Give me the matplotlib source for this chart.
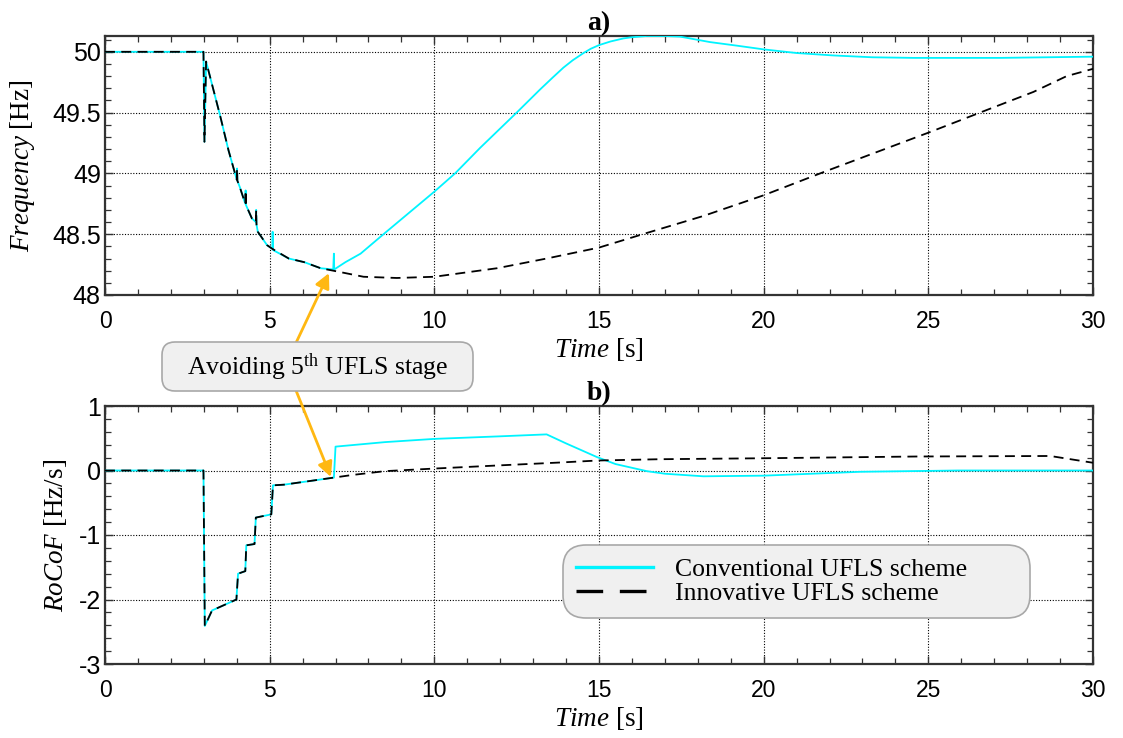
import matplotlib
matplotlib.use("Agg")
import matplotlib.pyplot as plt
from matplotlib.patches import FancyBboxPatch
from matplotlib.transforms import IdentityTransform
from matplotlib.ticker import MultipleLocator

plt.rcParams.update({
    "font.family": "Liberation Sans",
    "mathtext.fontset": "custom",
    "mathtext.rm": "Liberation Serif",
    "mathtext.it": "Liberation Serif:italic",
    "mathtext.bf": "Liberation Serif:bold",
    "axes.unicode_minus": False,
})

SERIF = "Liberation Serif"

# ---- frequency response [Hz] ----
t_freq_conv = [0, 2.99, 3.02, 3.07, 3.5, 3.75, 4.0, 4.01, 4.02, 4.09, 4.26, 4.27, 4.28,
               4.46, 4.58, 4.59, 4.60, 4.64, 4.92, 5.08, 5.09, 5.10, 5.58, 6.05, 6.55,
               6.93, 6.95, 6.96, 7.3, 7.76, 8.5, 9.25, 10.0, 10.63, 11.39, 12.5, 13.21, 13.6,
               13.92, 14.2, 14.53, 14.75, 15.0, 15.35, 15.74, 16.0, 16.45, 17.0, 17.46,
               18.37, 19.2, 20.0, 21.0, 22.12, 23.3, 24.55, 27.18, 30.0]
f_conv = [50.0, 50.0, 49.26, 49.92, 49.47, 49.19, 48.95, 49.04, 48.94, 48.89, 48.75, 48.86, 48.74,
          48.63, 48.60, 48.70, 48.58, 48.52, 48.41, 48.38, 48.52, 48.37, 48.30, 48.27, 48.22,
          48.21, 48.34, 48.21, 48.27, 48.34, 48.51, 48.68, 48.85, 49.0, 49.21, 49.50, 49.69, 49.79,
          49.87, 49.93, 49.99, 50.025, 50.055, 50.085, 50.11, 50.12, 50.13, 50.13, 50.125,
          50.08, 50.05, 50.02, 49.99, 49.97, 49.955, 49.95, 49.95, 49.96]

t_freq_innov = [0, 2.99, 3.02, 3.07, 3.5, 3.75, 4.0, 4.01, 4.02, 4.09, 4.26, 4.27, 4.28,
                4.46, 4.58, 4.59, 4.60, 4.64, 4.92, 5.08, 5.58, 6.05, 6.55, 6.93, 7.85,
                8.86, 10.0, 11.9, 13.41, 15.0, 16.45, 18.17, 20.0, 21.81, 25.05, 26.57,
                28.19, 29.2, 30.0]
f_innov = [50.0, 50.0, 49.26, 49.92, 49.47, 49.19, 48.95, 49.04, 48.94, 48.89, 48.75, 48.86, 48.74,
           48.63, 48.60, 48.70, 48.58, 48.52, 48.41, 48.38, 48.30, 48.27, 48.22, 48.20, 48.15,
           48.14, 48.15, 48.22, 48.30, 48.39, 48.51, 48.65, 48.82, 49.01, 49.34, 49.50,
           49.67, 49.80, 49.86]

# ---- rate of change of frequency [Hz/s] ----
t_rocof_conv = [0, 2.99, 3.03, 3.25, 3.6, 3.99, 4.04, 4.26, 4.29, 4.54, 4.58, 5.05, 5.1, 5.43,
                6.95, 7.0, 8.5, 10.0, 12.0, 13.41, 14.0, 14.93, 15.5, 16.45, 17.0, 18.17,
                20.0, 22.93, 25.9, 30.0]
r_conv = [0, 0, -2.41, -2.17, -2.09, -2.0, -1.60, -1.56, -1.16, -1.14, -0.73, -0.68, -0.23, -0.22,
          -0.11, 0.37, 0.44, 0.49, 0.53, 0.56, 0.42, 0.21, 0.10, -0.01, -0.05, -0.09,
          -0.08, -0.02, 0.0, 0.0]

t_rocof_innov = [0, 2.99, 3.03, 3.25, 3.6, 3.99, 4.04, 4.26, 4.29, 4.54, 4.58, 5.05, 5.1, 5.43,
                 6.95, 7.5, 8.5, 10.0, 12.0, 13.82, 14.97, 16.85, 20.0, 24.65, 28.7, 30.0]
r_innov = [0, 0, -2.41, -2.17, -2.09, -2.0, -1.60, -1.56, -1.16, -1.14, -0.73, -0.68, -0.23, -0.22,
           -0.11, -0.07, -0.01, 0.03, 0.08, 0.124, 0.155, 0.175, 0.19, 0.217, 0.225, 0.12]

series_labels = ["Conventional UFLS scheme", "Innovative UFLS scheme"]
annotation_text = r"Avoiding 5$^{\mathrm{th}}$ UFLS stage"

W, H = 1123, 738
fig = plt.figure(figsize=(W / 100, H / 100), dpi=100)
ax1 = fig.add_axes([105 / W, 1 - 295 / H, 988 / W, 259 / H])
ax2 = fig.add_axes([105 / W, 1 - 664 / H, 988 / W, 258 / H])

CYAN = "#00F4FF"
conv_kw = dict(color=CYAN, lw=1.3, zorder=3)
innov_kw = dict(color="black", lw=1.3, dashes=(5.5, 3.5), zorder=4)

ax1.plot(t_freq_conv, f_conv, label=series_labels[0], **conv_kw)
ax1.plot(t_freq_innov, f_innov, label=series_labels[1], **innov_kw)
ax2.plot(t_rocof_conv, r_conv, label=series_labels[0], **conv_kw)
ax2.plot(t_rocof_innov, r_innov, label=series_labels[1], **innov_kw)

ax1.set_xlim(0, 30)
ax1.set_ylim(48, 50.13)
ax2.set_xlim(0, 30)
ax2.set_ylim(-3, 1)

ax1.yaxis.set_minor_locator(MultipleLocator(0.1))
ax2.yaxis.set_major_locator(MultipleLocator(1))
ax2.yaxis.set_minor_locator(MultipleLocator(0.2))
ax1.set_yticks([48, 48.5, 49, 49.5, 50], ["48", "48.5", "49", "49.5", "50"])

for ax in (ax1, ax2):
    ax.xaxis.set_major_locator(MultipleLocator(5))
    ax.xaxis.set_minor_locator(MultipleLocator(1))
    ax.tick_params(which="both", direction="in", top=True, right=True, color="#333333")
    ax.tick_params(which="major", length=6, width=1)
    ax.tick_params(which="minor", length=4, width=0.9)
    ax.tick_params(axis="x", labelsize=16.5, pad=11)
    ax.tick_params(axis="y", labelsize=18, pad=3)
    ax.grid(True, which="major", ls=(0, (1, 1.5)), color="black", lw=0.8)
    for sp in ax.spines.values():
        sp.set_color("#333333")
        sp.set_linewidth(1.6)
    ax.set_xlabel(r"$\mathit{Time}$ [s]", family=SERIF, fontsize=19.5)
    ax.xaxis.set_label_coords(0.5, -0.158)

ax1.set_ylabel(r"$\mathit{Frequency}$ [Hz]", family=SERIF, fontsize=19.5)
ax1.yaxis.set_label_coords(-0.069, 0.5)
ax2.set_ylabel(r"$\mathit{RoCoF}$ [Hz/s]", family=SERIF, fontsize=19.5)
ax2.yaxis.set_label_coords(-0.036, 0.5)

ax1.set_title("a)", family=SERIF, fontweight="bold", fontsize=20, pad=2)
ax2.set_title("b)", family=SERIF, fontweight="bold", fontsize=20, pad=2)

leg = ax2.legend(loc="upper left", bbox_to_anchor=(0.4636, 0.461 - 0.271, 0.4727, 0.271),
                 mode="expand", borderaxespad=0,
                 prop=dict(family=SERIF, size=18.5), handlelength=3.0, handletextpad=0.85,
                 labelspacing=0.05, borderpad=0.5, fancybox=True, framealpha=1,
                 facecolor="#f0f0f0", edgecolor="#a8a8a8")
leg.get_frame().set_linewidth(1.2)
leg.get_frame().set_boxstyle("round", pad=0, rounding_size=0.9)
for h in leg.get_lines():
    h.set_linewidth(2.4)
leg.get_lines()[1].set_dashes((8, 5))

# call-out box with arrows to both panels
ARROW = "#FFB812"
arrow_kw = dict(arrowstyle="-|>", color=ARROW, lw=2, mutation_scale=22, shrinkA=0, shrinkB=0)
ax1.annotate("", xy=(6.8, 48.18), xycoords="data",
             xytext=(295 / W, 1 - 345 / H), textcoords="figure fraction",
             arrowprops=arrow_kw, annotation_clip=False, zorder=6)
ax2.annotate("", xy=(6.86, -0.1), xycoords="data",
             xytext=(295 / W, 1 - 388 / H), textcoords="figure fraction",
             arrowprops=arrow_kw, annotation_clip=False, zorder=6)

box = FancyBboxPatch((162, H - 391), 311, 49, boxstyle="round,pad=0,rounding_size=13",
                     transform=IdentityTransform(), fc="#f0f0f0", ec="#a8a8a8", lw=1.2,
                     zorder=10)
fig.patches.append(box)
fig.text(318 / W, 1 - 367 / H, annotation_text, family=SERIF, fontsize=18.5,
         ha="center", va="center", zorder=11)

fig.savefig("out.png", dpi=100)
